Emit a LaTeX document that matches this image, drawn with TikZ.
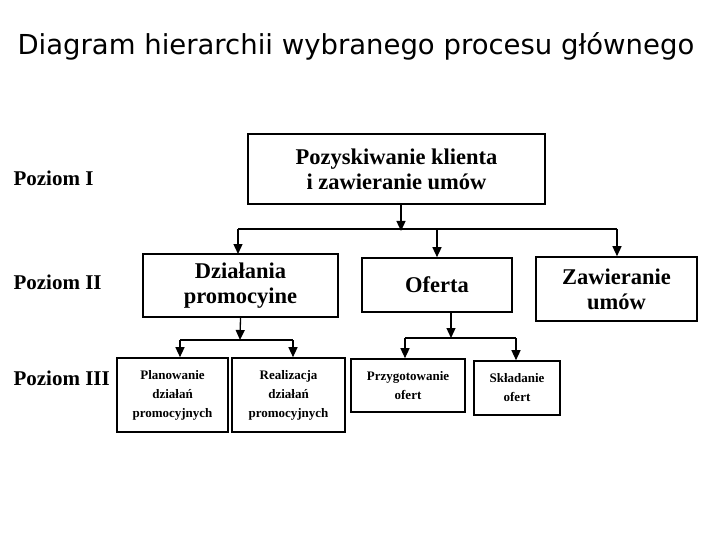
\documentclass[tikz,border=0pt]{standalone}
\usepackage{fontspec}
\setmainfont{Liberation Serif}
\newfontfamily\titlefont{DejaVu Sans}
\usetikzlibrary{arrows.meta}
\begin{document}
\begin{tikzpicture}[x=1pt,y=-1pt,
  box/.style={draw,line width=1.6pt,align=center,font=\bfseries,inner sep=0pt},
  big/.style={font=\fontsize{22.5}{25}\selectfont\bfseries},
  small/.style={font=\fontsize{13}{19}\selectfont\bfseries},
  lvl/.style={anchor=west,font=\fontsize{21}{23}\selectfont\bfseries},
  ln/.style={line width=1.3pt},
  arr/.style={ln,-{Triangle[width=9pt,length=10pt]}}]
\useasboundingbox (0,0) rectangle (720,540);
\node[anchor=west,font=\titlefont\fontsize{27.5}{30}\selectfont] (title) at (14,46) {Diagram hierarchii wybranego procesu głównego};
\node[lvl] (p1) at (10,178) {Poziom I};
\node[lvl] (p2) at (10,282) {Poziom II};
\node[lvl] (p3) at (10,378) {Poziom III};
\node[box,big,minimum width=297pt,minimum height=70pt] (top) at (396.5,169) {Pozyskiwanie klienta\\i zawieranie umów};
\node[box,big,minimum width=195pt,minimum height=63pt] (dz) at (240.5,285.5) {Działania\\promocyine};
\node[box,big,minimum width=150pt,minimum height=54pt] (of) at (437,285) {Oferta};
\node[box,big,minimum width=161pt,minimum height=64pt] (za) at (616.5,289) {Zawieranie\\umów};
\node[box,small,minimum width=111pt,minimum height=74pt] (b1) at (172.5,395) {Planowanie\\działań\\promocyjnych};
\node[box,small,minimum width=113pt,minimum height=74pt] (b2) at (288.5,395) {Realizacja\\działań\\promocyjnych};
\node[box,small,minimum width=114pt,minimum height=53pt] (b3) at (408,385.5) {Przygotowanie\\ofert};
\node[box,small,minimum width=86pt,minimum height=54pt] (b4) at (517,388) {Składanie\\ofert};
\coordinate (j1) at (401,229);
\coordinate (j2) at (240,340);
\coordinate (j3) at (451,338);
\draw[arr] (top.south -| j1) -- ([yshift=-2pt]j1);
\draw[ln] (238,229) -- (617,229);
\draw[arr] (238,229) -- (238,254);
\draw[arr] (437,229) -- (of.north);
\draw[arr] (617,229) -- (za.north -| 617,0);
\draw[arr] (dz.south) -- (j2);
\draw[ln] (180,340) -- (293,340);
\draw[arr] (180,340) -- (b1.north -| 180,0);
\draw[arr] (293,340) -- (b2.north -| 293,0);
\draw[arr] (of.south -| j3) -- (j3);
\draw[ln] (405,338) -- (516,338);
\draw[arr] (405,338) -- (b3.north -| 405,0);
\draw[arr] (516,338) -- (b4.north -| 516,0);
\end{tikzpicture}
\end{document}
